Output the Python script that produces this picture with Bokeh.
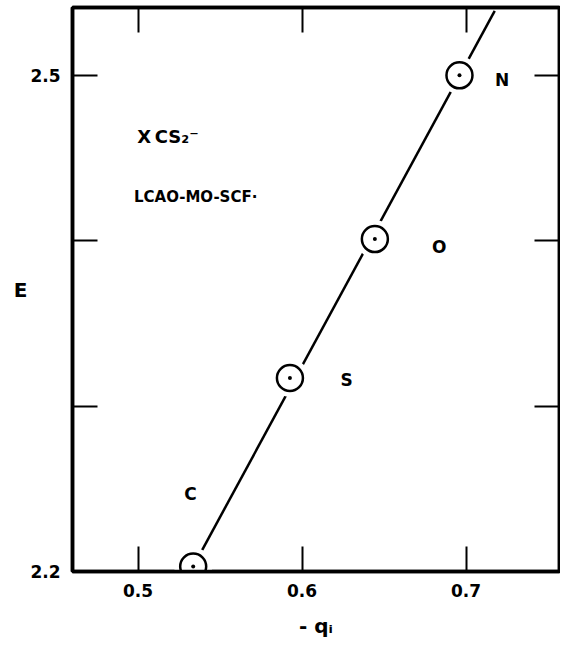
from bokeh.plotting import figure
from bokeh.models import Range1d, FixedTicker, LinearAxis, Label
from bokeh.core.properties import value
from bokeh.embed import file_html
from bokeh.resources import INLINE

# data
elements = ["C", "S", "O", "N"]
neg_q = [0.5336, 0.5926, 0.6444, 0.696]
energy = [2.203, 2.317, 2.401, 2.500]
label_x = [0.532, 0.6272, 0.6836, 0.722]
label_y = [2.247, 2.316, 2.396, 2.497]
fit_x = [0.5336, 0.7175]
fit_y = [2.203, 2.539]
x_ticks = [0.5, 0.6, 0.7]
y_ticks = [2.2, 2.3, 2.4, 2.5]
y_tick_labels = {2.2: "2.2", 2.3: "", 2.4: "", 2.5: "2.5"}

FONT = "DejaVu Sans"

p = figure(width=560, height=640, x_range=Range1d(0.46, 0.757), y_range=Range1d(2.2, 2.541),
           output_backend="svg", toolbar_location=None,
           min_border_left=72, min_border_right=1, min_border_top=7, min_border_bottom=67)
p.grid.visible = False
p.outline_line_color = "black"
p.outline_line_width = 3.5
p.background_fill_color = "white"
p.border_fill_color = "white"

def style_axis(ax, ticks, show_labels):
    ax.ticker = FixedTicker(ticks=ticks)
    ax.major_tick_in = 25
    ax.major_tick_out = 0
    ax.minor_tick_in = 0
    ax.minor_tick_out = 0
    ax.major_tick_line_width = 2
    ax.major_tick_line_color = "black"
    ax.axis_line_width = 3.5
    ax.axis_line_color = "black"
    if show_labels:
        ax.major_label_text_font = FONT
        ax.major_label_text_font_style = "bold"
        ax.major_label_text_font_size = "17px"
        ax.major_label_text_color = "black"
        ax.major_label_standoff = 12
    else:
        ax.major_label_text_font_size = "0px"
        ax.major_label_standoff = 0

style_axis(p.xaxis[0], x_ticks, True)
style_axis(p.yaxis[0], y_ticks, True)
p.yaxis[0].major_label_overrides = y_tick_labels

xa = p.xaxis[0]
xa.axis_label = "- qᵢ"
xa.axis_label_text_font = FONT
xa.axis_label_text_font_style = "bold"
xa.axis_label_text_font_size = "20px"
xa.axis_label_text_color = "black"
xa.axis_label_standoff = 14

ya = p.yaxis[0]
ya.axis_label = "E"
ya.axis_label_orientation = "horizontal"
ya.axis_label_text_font = FONT
ya.axis_label_text_font_style = "bold"
ya.axis_label_text_font_size = "20px"
ya.axis_label_text_color = "black"
ya.axis_label_text_baseline = "top"
ya.axis_label_standoff = 0

top_ax = LinearAxis()
style_axis(top_ax, x_ticks, False)
p.add_layout(top_ax, "above")
right_ax = LinearAxis()
style_axis(right_ax, y_ticks, False)
p.add_layout(right_ax, "right")

# fitted line with gaps around the circles
p.line(fit_x, fit_y, line_color="black", line_width=2.5)
p.scatter(neg_q, energy, size=38, fill_color="white", line_color=None)
p.scatter(neg_q, energy, size=26, fill_color=None, line_color="black", line_width=2.5)
p.scatter(neg_q, energy, size=4, fill_color="black", line_color=None)

p.text(label_x, label_y, text=elements, text_font=value(FONT), text_font_size="17px",
       text_font_style="bold", text_align="center", text_baseline="middle", text_color="black")

p.add_layout(Label(x=0.4995, y=2.463, text="X\u2009CS₂⁻", text_font=FONT, text_font_style="bold",
                   text_font_size="18px", text_baseline="middle", text_align="left", text_color="black"))
p.add_layout(Label(x=0.4975, y=2.4265, text="LCAO-MO-SCF·", text_font=FONT, text_font_style="bold",
                   text_font_size="15px", text_baseline="middle", text_align="left", text_color="black"))

open("out.html", "w").write(file_html(p, INLINE))
